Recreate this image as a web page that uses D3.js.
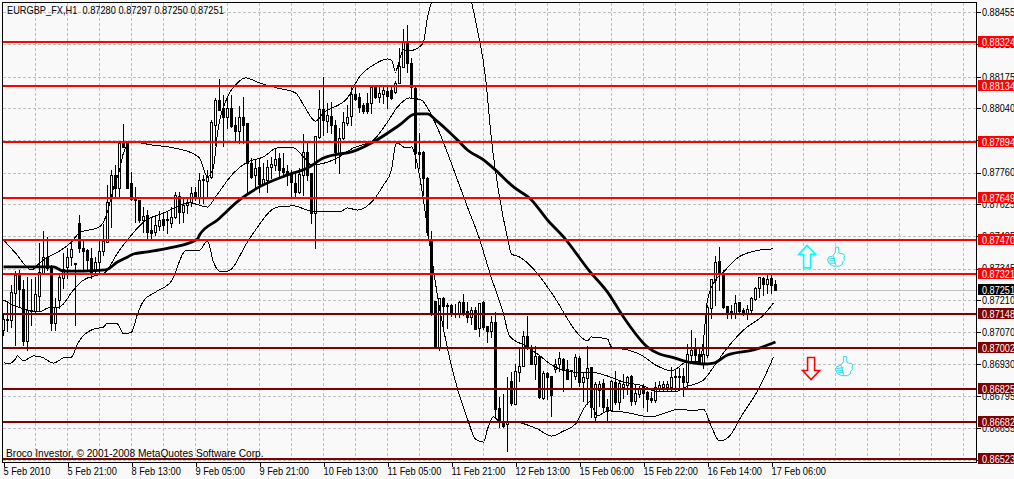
<!DOCTYPE html>
<html><head><meta charset="utf-8">
<script src="https://cdn.jsdelivr.net/npm/d3@7"></script>
<style>
html,body{margin:0;padding:0;background:#f9f9f9;overflow:hidden}
svg{display:block}
text{font-family:"Liberation Sans",Arial,sans-serif;font-size:10.5px;fill:#000}
</style></head><body>
<svg id="c" width="1014" height="479"></svg>
<script>
// prices in 1/100000
const opens=[87079,87127,87122,87239,87317,87257,87032,87166,87161,87226,87326,87395,87352,87109,87209,87304,87352,87395,87369,87542,87434,87425,87391,87334,87373,87421,87460,87650,87750,87694,87893,87888,87715,87646,87642,87555,87577,87512,87503,87529,87559,87559,87542,87568,87659,87590,87620,87633,87676,87650,87732,87724,87741,87966,88074,88040,88001,88040,87966,87940,88001,87975,87802,87750,87784,87711,87728,87784,87793,87823,87780,87767,87758,87715,87676,87750,87849,87758,87585,87914,88035,87983,88005,87966,87845,87910,87975,88005,88100,88087,88053,88061,88061,88131,88087,88100,88113,88118,88109,88148,88217,88325,88234,88126,87849,87849,87737,87473,87205,87005,87217,87187,87187,87153,87153,87200,87161,87135,87166,87088,87200,87096,87075,87114,86742,86681,86672,86858,86759,86897,86923,87053,87001,86932,86967,86785,86893,86880,86910,86932,86954,86910,86906,86880,86958,86854,86871,86919,86703,86819,86850,86746,86733,86854,86768,86832,86841,86880,86772,86802,86837,86811,86785,86776,86824,86832,86832,86832,86880,86880,86880,86854,86971,86997,86975,86932,86971,87174,87295,87378,87326,87183,87161,87148,87200,87166,87153,87166,87213,87261,87304,87278,87304,87280];
const highs=[87153,87205,87274,87334,87339,87295,87308,87300,87308,87456,87507,87482,87360,87217,87317,87412,87434,87469,87369,87577,87469,87430,87434,87395,87469,87538,87706,87771,87793,87888,87970,87888,87763,87698,87642,87611,87598,87568,87577,87594,87590,87590,87611,87676,87676,87655,87650,87698,87698,87758,87750,87771,87988,88083,88165,88096,88087,88096,88001,88048,88087,87975,87823,87815,87823,87802,87815,87828,87867,87845,87845,87793,87771,87763,87780,87927,87893,87758,87919,88118,88174,88061,88066,87988,87953,88022,88053,88139,88139,88105,88061,88105,88131,88131,88139,88131,88131,88131,88157,88299,88382,88399,88256,88131,87932,87854,87741,87507,87205,87217,87222,87196,87192,87192,87205,87235,87200,87179,87179,87196,87205,87096,87140,87157,86789,86802,86876,86897,86932,86997,87075,87140,87014,87010,86971,86902,86897,86880,86954,86984,86958,86949,86906,86975,86967,86897,87010,86919,86854,86858,86867,86780,86863,86902,86858,86889,86880,86884,86845,86837,86845,86815,86811,86854,86858,86858,86858,86919,86906,86915,86915,87019,87079,87044,87001,87049,87187,87300,87399,87438,87339,87183,87187,87230,87200,87174,87187,87222,87265,87308,87308,87317,87317,87297];
const lows=[87057,87075,87092,87014,87179,87014,86993,87101,87153,87166,87326,87339,87079,87079,87174,87261,87304,87360,87101,87417,87339,87339,87304,87326,87330,87404,87460,87525,87650,87659,87871,87694,87642,87546,87546,87503,87477,87469,87490,87512,87512,87499,87525,87564,87542,87546,87585,87616,87642,87629,87629,87655,87737,87880,88031,87875,87953,87957,87893,87888,87888,87676,87737,87698,87676,87706,87676,87737,87771,87737,87741,87706,87655,87655,87672,87663,87728,87542,87434,87910,87923,87936,87932,87802,87758,87906,87966,87966,88074,88022,88018,88018,88018,88083,88066,88061,88040,88079,88105,88148,88217,88195,88083,87780,87780,87663,87490,87144,87005,86993,87092,87088,87140,87135,87135,87144,87114,87105,87083,87053,87083,87027,87049,86707,86659,86659,86555,86755,86759,86858,86923,86997,86932,86867,86785,86780,86780,86707,86897,86902,86815,86867,86832,86867,86837,86772,86759,86703,86685,86750,86724,86685,86729,86759,86737,86785,86802,86755,86759,86789,86746,86729,86768,86768,86815,86815,86819,86819,86819,86828,86794,86832,86936,86941,86932,86915,86962,87131,87187,87252,87174,87131,87131,87131,87157,87144,87127,87153,87209,87222,87230,87239,87239,87250];
const closes=[87127,87122,87243,87317,87257,87032,87166,87161,87235,87330,87395,87347,87109,87179,87308,87343,87395,87430,87365,87434,87421,87382,87330,87373,87421,87464,87633,87750,87694,87888,87871,87694,87646,87642,87555,87572,87503,87499,87533,87555,87533,87555,87568,87663,87590,87620,87633,87672,87655,87728,87728,87741,87979,88074,88031,88001,88040,87962,87940,88001,87966,87802,87741,87780,87711,87732,87784,87797,87819,87771,87763,87758,87719,87676,87754,87849,87750,87585,87919,88035,87988,88009,87966,87849,87910,87979,88001,88100,88079,88044,88027,88027,88131,88087,88105,88118,88092,88083,88148,88221,88325,88234,88131,87845,87841,87737,87503,87148,87005,87217,87183,87183,87153,87148,87200,87153,87135,87166,87083,87196,87092,87075,87114,86737,86681,86664,86681,86763,86902,86923,87053,87001,86932,86967,86789,86893,86876,86798,86932,86958,86906,86867,86902,86962,86854,86876,86915,86746,86845,86845,86746,86729,86858,86768,86850,86845,86876,86772,86807,86828,86807,86780,86776,86832,86841,86845,86845,86876,86876,86876,86854,86975,86993,86971,86936,86975,87179,87300,87373,87326,87179,87157,87157,87196,87161,87153,87170,87217,87261,87308,87278,87300,87274,87251];

const bandBars=[0,3,7,9,17,19,24,26,27.5,29,30,32,37,42.5,47.5,49,51,52.5,53.5,56,58.5,60.5,64,68.5,73,75,77.5,78,80,86,87.5,89,92.5,96,97,98,98.5,100,101,104,105,106,107,110,112,114,117,118.5,120.5,122,124,126,127,129,132.5,136,138.5,141,143,146,147,151,152,156,159,163.5,167,171,174,175,176,178,180,183.5,189,192.5];
const upperBand=[87469,87412,87339,87369,87460,87499,87525,87590,87694,87771,87845,87893,87880,87867,87841,87823,87741,87784,87932,88087,88148,88170,88148,88126,88105,88053,87988,87983,88018,88083,88131,88174,88226,88252,88247,88195,88217,88291,88286,88304,88325,88433,88498,88680,88767,88680,88498,88377,88174,87901,87655,87477,87408,87395,87343,87265,87200,87127,87075,87032,87049,87040,87005,86993,86975,86923,86902,86941,86941,87036,87209,87295,87330,87391,87425,87430];
const midBars=[0,3.5,6,9,11,14,17.5,20,23.5,25.5,28.5,31,35,40,46.5,51,53,57.5,61,65,68.5,72.5,75,77,82.5,87.5,92.5,96,98.5,101.5,104.5,106,108.5,111,113.5,116,119,121.5,125,126.5,130.5,133.5,137.5,142.5,146.5,151,155,160,163.5,168.5,170.5,175,177.5,180,185,190,192.5];
const midBand=[87209,87179,87166,87157,87174,87179,87252,87295,87317,87330,87412,87469,87546,87585,87629,87611,87655,87758,87806,87828,87867,87867,87828,87793,87815,87867,87901,87979,88044,88083,88074,88040,87953,87845,87728,87611,87473,87330,87148,87053,87010,86975,86923,86897,86897,86880,86854,86837,86811,86815,86832,86863,86919,86980,87079,87144,87196];
const lowBars=[0,1,3,3.5,5,7.5,9.5,12.5,15,17,18.5,22.5,25,26,28.5,30,32,33.5,35,38,42,45.5,49,51,52.5,54,56,61,62.5,68.5,72.5,76,80,84,86,88.5,92.5,95,97,98,98.5,100.5,102,103,107,108.5,110,113.5,116,118,120,121,122.5,124,126.5,133.5,137,140,143,146.5,148.5,151,155,162,166,169,172.5,175,177,179,181.5,184.5,188.5,192.5];
const lowerBand=[86941,86932,86954,86967,86945,86967,86962,86936,86958,86962,87019,87083,87092,87109,87105,87062,87070,87148,87205,87243,87291,87421,87425,87464,87373,87334,87334,87460,87499,87611,87616,87598,87590,87590,87607,87598,87642,87706,87771,87880,87888,87867,87871,87828,87399,87226,87083,86824,86694,86607,86594,86651,86703,86685,86685,86651,86620,86642,86672,86768,86707,86729,86724,86703,86724,86737,86729,86737,86659,86599,86620,86707,86815,86962];
const maBars=[0,7.5,12.5,15,20,25.5,28.5,31,32.5,36,41.5,48.5,49,53.5,59,63.5,71,76,80,84,86,92.5,99,103,106,108,113.5,116,120,123,127.5,132,136,140,146.5,151,155,161,164,167,171,175,177.5,181,187.5,193];
const maLine=[87352,87352,87352,87334,87334,87339,87373,87395,87408,87417,87434,87473,87490,87555,87642,87694,87750,87780,87823,87841,87845,87893,87966,88014,88014,87988,87901,87858,87815,87771,87698,87642,87555,87482,87334,87243,87135,87005,86975,86962,86941,86932,86936,86971,86993,87027];

const priceTicks=[88455,88315,88175,88040,87900,87760,87625,87485,87345,87210,87070,86930,86795,86655,86515];
const brightLevels=[88324,88134,87894,87649,87470,87321];
const darkLevels=[87148,87002,86825,86682,86523];
const lastPrice=87251;
const timeBars=[0,16,32,48,64,80,96,112,128,144,160,176,192];
const timeLabels=["5 Feb 2010","5 Feb 21:00","8 Feb 13:00","9 Feb 05:00","9 Feb 21:00","10 Feb 13:00","11 Feb 05:00","11 Feb 21:00","12 Feb 13:00","15 Feb 06:00","15 Feb 22:00","16 Feb 14:00","17 Feb 06:00"];
const headerText="EURGBP_FX,H1  0.87280 0.87297 0.87250 0.87251";
const footerText="Broco Investor, © 2001-2008 MetaQuotes Software Corp.";

const L=2.5,R=976.5,T=2.5,B=462.5;
const x=d3.scaleLinear().domain([0,1]).range([3.5,7.5]);
const y=d3.scaleLinear().domain([88455,86655]).range([12,428]);
const fmt=v=>(v/100000).toFixed(5);
const svg=d3.select("#c");
const narrow=(sel,f)=>sel.each(function(){
 const w=this.getComputedTextLength();
 d3.select(this).attr("textLength",(w*f).toFixed(1)).attr("lengthAdjust","spacingAndGlyphs");
});
svg.append("defs").append("clipPath").attr("id","plot").append("rect").attr("x",L).attr("y",T).attr("width",R-L).attr("height",B-T);
const plot=svg.append("g").attr("clip-path","url(#plot)");

// grid
const gridBars=d3.range(8,241,8);
plot.append("g").attr("shape-rendering","crispEdges").selectAll("line.v").data(gridBars).join("line")
 .attr("x1",d=>x(d)).attr("x2",d=>x(d)).attr("y1",T).attr("y2",B)
 .attr("stroke","#c0c0c0").attr("stroke-dasharray","3,2");
plot.append("g").attr("shape-rendering","crispEdges").selectAll("line.h").data(priceTicks).join("line")
 .attr("x1",L).attr("x2",R).attr("y1",d=>Math.round(y(d))+.5).attr("y2",d=>Math.round(y(d))+.5)
 .attr("stroke","#c0c0c0").attr("stroke-dasharray","3,2");
// last price line
plot.append("line").attr("x1",L).attr("x2",R).attr("y1",Math.round(y(lastPrice))+.5).attr("y2",Math.round(y(lastPrice))+.5)
 .attr("stroke","#c0c0c0").attr("shape-rendering","crispEdges");

// candles
const bars=d3.range(opens.length);
const cg=plot.append("g").attr("shape-rendering","crispEdges");
cg.selectAll("line").data(bars).join("line")
 .attr("x1",i=>x(i)).attr("x2",i=>x(i))
 .attr("y1",i=>Math.round(y(highs[i]))).attr("y2",i=>Math.round(y(lows[i]))+1)
 .attr("stroke","#000");
cg.selectAll("rect").data(bars).join("rect")
 .attr("x",i=>x(i)-1).attr("width",2)
 .attr("y",i=>Math.round(y(Math.max(opens[i],closes[i])))+.5)
 .attr("height",i=>Math.max(1,Math.round(y(Math.min(opens[i],closes[i])))-Math.round(y(Math.max(opens[i],closes[i])))))
 .attr("fill",i=>closes[i]>=opens[i]?"#fff":"#000").attr("stroke","#000");

// indicator lines
const line=d3.line().curve(d3.curveMonotoneX).x(d=>x(d[0])).y(d=>y(d[1]));
const zip=(a,b)=>a.map((v,i)=>[v,b[i]]);
[[bandBars,upperBand],[midBars,midBand],[lowBars,lowerBand]].forEach(([a,b])=>{
 plot.append("path").attr("d",line(zip(a,b))).attr("fill","none").attr("stroke","#000").attr("stroke-width",1).attr("shape-rendering","crispEdges");
});
plot.append("path").attr("d",line(zip(maBars,maLine))).attr("fill","none").attr("stroke","#000").attr("stroke-width",2.8).attr("stroke-linejoin","round");

// horizontal levels
const levels=brightLevels.map(v=>({v,c:"#ff0000"})).concat(darkLevels.map(v=>({v,c:"#7f0000"})));
plot.append("g").attr("shape-rendering","crispEdges").selectAll("line").data(levels).join("line")
 .attr("x1",L).attr("x2",R).attr("y1",d=>Math.round(y(d.v))).attr("y2",d=>Math.round(y(d.v)))
 .attr("stroke",d=>d.c).attr("stroke-width",2);

// annotations
const ann=svg.append("g");
function upArrow(cx,top){
 return `M${cx-3.5},${top+22.5}V${top+9}H${cx-8.5}L${cx},${top}L${cx+8.5},${top+9}H${cx+3.5}V${top+22.5}Z`;
}
function downArrow(cx,top){
 return `M${cx-3.5},${top}V${top+13}H${cx-8.5}L${cx},${top+22}L${cx+8.5},${top+13}H${cx+3.5}V${top}Z`;
}
ann.append("path").attr("d",upArrow(x(200.9),y(87445))).attr("fill","#f9f9f9").attr("stroke","#00ffff").attr("stroke-width",1.6);
ann.append("path").attr("d",downArrow(x(201.9),y(86960))).attr("fill","#f9f9f9").attr("stroke","#ff0000").attr("stroke-width",1.6);
function thumb(g,cx,top){
 const t=g.append("g").attr("transform",`translate(${cx},${top})`);
 t.append("path").attr("d","M1,11 L5,10 L8,6 L8,1 L11,1 L11.5,7 L16,8 Q18,9 16.5,12 L17,14 L15,16 L15,18 L12,20 L6,20 L2,18 L0,14 Z")
  .attr("fill","#f9f9f9").attr("stroke","#19d8e6").attr("stroke-width",.9);
 t.append("path").attr("d","M1,13 L8,12 M1,15 L8,14.5 M2,17 L8,17 M6,10 L8,19").attr("fill","none").attr("stroke","#19d8e6").attr("stroke-width",.9);
}
thumb(ann,x(206),y(87442));
thumb(ann,x(208),y(86968));

// frame
svg.append("rect").attr("x",L).attr("y",T).attr("width",R-L).attr("height",B-T).attr("fill","none").attr("stroke","#000").attr("shape-rendering","crispEdges");

// axes
const yAxis=d3.axisRight(y).tickValues(priceTicks).tickFormat(fmt).tickSize(4).tickPadding(2);
const gy=svg.append("g").attr("transform",`translate(${R},0)`).call(yAxis);
gy.select(".domain").remove();
gy.selectAll("line").attr("stroke","#000").attr("shape-rendering","crispEdges");
gy.selectAll("text").attr("x",5.5).style("font-size","10.5px").call(narrow,.87);

const xAxis=d3.axisBottom(x).tickValues(timeBars).tickFormat((d,i)=>timeLabels[i]).tickSize(4);
const gx=svg.append("g").attr("transform",`translate(0,${B})`).call(xAxis);
gx.select(".domain").remove();
gx.selectAll("line").attr("stroke","#000").attr("shape-rendering","crispEdges");
gx.selectAll("text").attr("text-anchor","start").attr("x",-.5).attr("y",5).style("font-size","10.5px").call(narrow,.88);

// price boxes
const boxes=svg.append("g");
levels.concat([{v:lastPrice,c:"#000"}]).forEach(d=>{
 const yy=Math.round(y(d.v));
 boxes.append("rect").attr("x",978).attr("y",yy-6).attr("width",36).attr("height",11).attr("fill",d.c).attr("shape-rendering","crispEdges");
 boxes.append("text").attr("x",982).attr("y",yy+4).style("fill","#fff").text(fmt(d.v)).call(narrow,.87);
});

// header/footer
svg.append("text").attr("x",7).attr("y",14).attr("xml:space","preserve").style("white-space","pre").text(headerText).call(narrow,.88);
svg.append("text").attr("x",6).attr("y",457).text(footerText).call(narrow,.965);
</script>
</body></html>
